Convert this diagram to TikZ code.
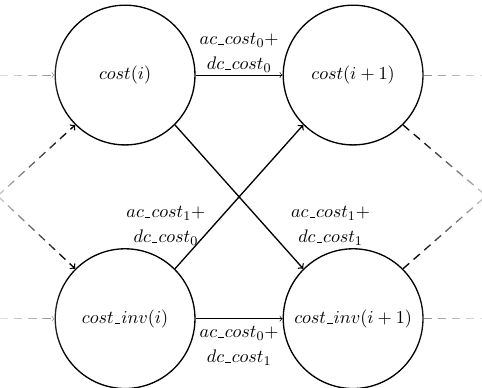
\documentclass[tikz,border=0pt,11pt]{standalone}
\usetikzlibrary{fadings}
\newcommand{\us}{\kern.06em\vbox{\hrule width .3em}\kern.06em}
\begin{document}
\begin{tikzpicture}[state/.style={circle,draw,thick,minimum size=2.96cm,inner sep=0pt},
  carry/.style={->,gray,dash pattern=on 5pt off 3.5pt},
  swap/.style={->,thick,dash pattern=on 5pt off 3.5pt},
  cost/.style={align=center,inner sep=1.5pt}]
\useasboundingbox (0,0) rectangle (10.21,8.2);
\node[state] (ci) at (2.65,6.61) {$cost(i)$};
\node[state] (cj) at (7.48,6.61) {$cost(i+1)$};
\node[state] (vi) at (2.65,1.45) {$cost\us inv(i)$};
\node[state] (vj) at (7.48,1.45) {$cost\us inv(i+1)$};

\coordinate (cin) at (0,6.61); \coordinate (cout) at (10.21,6.61);
\coordinate (vin) at (0,1.45); \coordinate (vout) at (10.21,1.45);
\coordinate (lin) at (-0.05,4.05); \coordinate (rout) at (10.3,4.05);

\draw[carry] (cin) -- (ci); \draw[carry,-] (cj) -- (cout);
\draw[carry] (vin) -- (vi); \draw[carry,-] (vj) -- (vout);
\draw[swap] (lin) -- (ci.225); \draw[swap] (lin) -- (vi.135);
\draw[swap,-] (cj.-45) -- (rout); \draw[swap,-] (vj.45) -- (rout);

% fade out at the borders
\fill[white,path fading=east] (-0.4,0) rectangle (1.4,8.2);
\fill[white,path fading=west] (8.81,0) rectangle (10.61,8.2);

\draw[->] (ci) -- (cj) node [midway,above,cost] {$ac\us cost_0+$\\[1.5pt]$dc\us cost_0$};
\draw[->] (vi) -- (vj) node [midway,below=3pt,cost] {$ac\us cost_0+$\\[1.5pt]$dc\us cost_1$};
\draw[->,thick] (vi.45) -- (cj.-135) node [pos=0.3,left=3pt,cost] {$ac\us cost_1+$\\[1.5pt]$dc\us cost_0$};
\draw[->,thick] (ci.-45) -- (vj.135) node [pos=0.7,right=14pt,cost] {$ac\us cost_1+$\\[1.5pt]$dc\us cost_1$};
\end{tikzpicture}
\end{document}
